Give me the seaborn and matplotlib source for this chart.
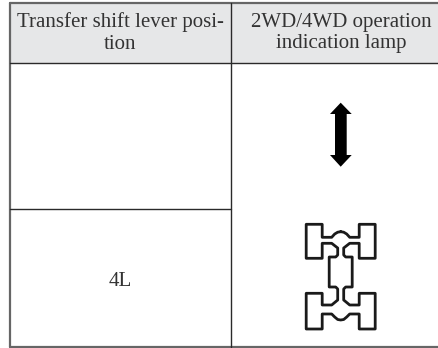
import matplotlib
matplotlib.use("Agg")
import matplotlib.pyplot as plt
import seaborn as sns

sns.set_style("white")
plt.rcParams['font.family'] = ['Liberation Serif', 'DejaVu Serif']

# everything is in reference pixels, y pointing down
header_left = "Transfer shift lever posi-\ntion"
header_right = "2WD/4WD operation\nindication lamp"
row_label = "4L"

grey_rules = [([10, 10], [3, 347]), ([10, 438], [3, 3]), ([10, 438], [347, 347])]
dark_rules = [([230.5, 230.5], [3, 347]), ([10, 438], [62.5, 62.5]), ([10, 230.5], [209, 209])]

arrow_x = [340.7, 351.7, 346.7, 346.7, 351.7, 340.7, 330, 335, 335, 330, 340.7]
arrow_y = [102.7, 114, 114, 155, 155, 166.7, 155, 155, 114, 114, 102.7]

# right half of the lamp outline, going from top hump down to the lower hump
half_x = [0, 3, 6, 9, 18.5, 18.5, 34.5, 34.5, 18.5, 18.5, 9, 3, 3, 5, 11.5, 11.5, 5, 3, 3, 9, 18.5, 18.5, 34.5, 34.5, 18.5, 18.5, 9, 6, 3, 0]
half_y = [231.7, 232.2, 234, 237.3, 237.3, 224.3, 224.3, 258.3, 258.3, 243.3, 243.3, 248, 255, 257, 257, 287, 287, 289, 300, 305, 305, 293.3, 293.3, 329, 329, 314, 314, 317, 319.5, 320]
lamp_center = 340.7

fig, ax = plt.subplots(figsize=(4.38, 3.48), dpi=100)
fig.subplots_adjust(0, 0, 1, 1)
ax.set_xlim(0, 438)
ax.set_ylim(348, 0)
ax.axis("off")

ax.fill_between([10, 438], 3, 62.5, color="#e6e7e8", lw=0)

for xs, ys in grey_rules:
    sns.lineplot(x=xs, y=ys, sort=False, estimator=None, color="#666666", lw=1.6, ax=ax)
for xs, ys in dark_rules:
    sns.lineplot(x=xs, y=ys, sort=False, estimator=None, color="#2a2a2a", lw=1.0, ax=ax)

ax.text(120, 33, header_left, ha="center", va="center", fontsize=15, color="#333333", linespacing=1.2)
ax.text(341, 33, header_right, ha="center", va="center", fontsize=15, color="#333333", linespacing=1.2)
ax.text(120, 282, row_label, ha="center", va="center", fontsize=15, color="#333333")

ax.fill(arrow_x, arrow_y, color="black", lw=0)

right_x = [lamp_center + v for v in half_x]
left_x = [lamp_center - v for v in half_x]
outline_x = right_x + left_x[::-1]
outline_y = half_y + half_y[::-1]
sns.lineplot(x=outline_x, y=outline_y, sort=False, estimator=None, color="#1a1a1a", lw=2.0, ax=ax)

plt.savefig("out.png", dpi=100)
